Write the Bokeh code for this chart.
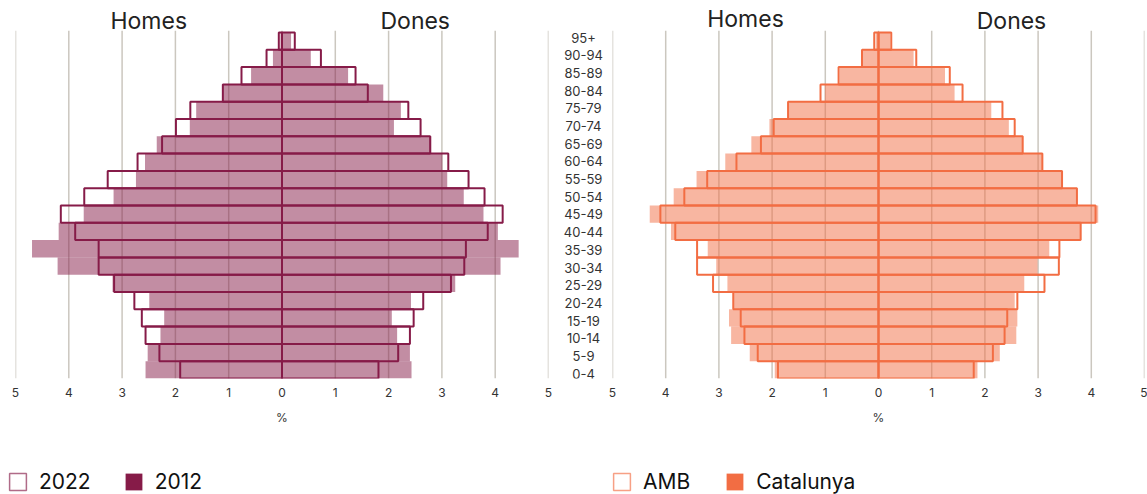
from bokeh.plotting import figure
from bokeh.layouts import row, column
from bokeh.models import Range1d, FixedTicker, Label, Legend, LegendItem
from bokeh.core.properties import value
from bokeh.embed import file_html
from bokeh.resources import INLINE

FONT = "Inter"

ages = ["0-4", "5-9", "10-14", "15-19", "20-24", "25-29", "30-34", "35-39", "40-44", "45-49",
        "50-54", "55-59", "60-64", "65-69", "70-74", "75-79", "80-84", "85-89", "90-94", "95+"]

# Left pyramid: 2022 (outline) vs 2012 (filled), % of population
homes_2022 = [1.91, 2.30, 2.56, 2.63, 2.77, 3.15, 3.44, 3.44, 3.88, 4.15,
              3.71, 3.27, 2.71, 2.25, 1.99, 1.72, 1.11, 0.76, 0.29, 0.06]
homes_2012 = [2.56, 2.52, 2.28, 2.21, 2.49, 3.18, 4.21, 4.69, 4.19, 3.72,
              3.16, 2.74, 2.57, 2.35, 1.73, 1.61, 1.12, 0.58, 0.17, 0.03]
dones_2022 = [1.81, 2.18, 2.40, 2.47, 2.65, 3.17, 3.42, 3.45, 3.86, 4.14,
              3.80, 3.50, 3.12, 2.78, 2.60, 2.37, 1.61, 1.38, 0.73, 0.24]
dones_2012 = [2.43, 2.40, 2.16, 2.06, 2.42, 3.25, 4.10, 4.44, 4.05, 3.78,
              3.41, 3.10, 3.01, 2.80, 2.10, 2.23, 1.90, 1.24, 0.54, 0.17]

# Right pyramid: AMB (outline) vs Catalunya (filled)
homes_amb = [1.89, 2.27, 2.52, 2.59, 2.73, 3.11, 3.41, 3.41, 3.82, 4.10,
             3.65, 3.22, 2.67, 2.21, 1.97, 1.70, 1.09, 0.75, 0.31, 0.08]
homes_cat = [1.95, 2.42, 2.77, 2.81, 2.73, 2.84, 3.05, 3.21, 3.90, 4.30,
             3.85, 3.42, 2.88, 2.39, 2.05, 1.70, 1.01, 0.73, 0.30, 0.05]
dones_amb = [1.79, 2.15, 2.37, 2.42, 2.61, 3.12, 3.39, 3.40, 3.80, 4.08,
             3.73, 3.45, 3.08, 2.71, 2.56, 2.33, 1.58, 1.34, 0.71, 0.24]
dones_cat = [1.86, 2.28, 2.59, 2.61, 2.56, 2.74, 2.99, 3.21, 3.81, 4.13,
             3.73, 3.45, 3.09, 2.72, 2.45, 2.12, 1.43, 1.25, 0.66, 0.22]

x_ticks = [-5, -4, -3, -2, -1, 0, 1, 2, 3, 4, 5]
tick_labels = {t: str(abs(t)) for t in x_ticks}
sides = ["Homes", "Dones"]
legend_left = ["2022", "2012"]
legend_right = ["AMB", "Catalunya"]

MAROON = "#861b48"
ORANGE = "#f26d43"
GRID = "#cbc7bf"

MAIN_H = 468
BOTTOM = 90
NBANDS = len(ages)
GRID_TOP = NBANDS + 0.1
YTOP = 21.85


def pyramid(width, bl, br, m_out, m_fill, f_out, f_fill, col, title_off):
    p = figure(width=width, height=MAIN_H, x_range=Range1d(-5, 5), y_range=Range1d(0, YTOP),
               output_backend="svg", toolbar_location=None,
               min_border_left=bl, min_border_right=br, min_border_top=0,
               min_border_bottom=BOTTOM, y_axis_location=None)
    p.outline_line_color = None
    p.xgrid.visible = False
    p.ygrid.visible = False

    ax = p.xaxis[0]
    ax.ticker = FixedTicker(ticks=x_ticks)
    ax.major_label_overrides = tick_labels
    ax.axis_line_color = None
    ax.major_tick_line_color = None
    ax.minor_tick_line_color = None
    ax.major_label_standoff = 3
    ax.major_label_text_font = FONT
    ax.major_label_text_font_size = "12px"
    ax.major_label_text_color = "#333333"
    ax.axis_label = "%"
    ax.axis_label_text_font = FONT
    ax.axis_label_text_font_style = "normal"
    ax.axis_label_text_font_size = "12px"
    ax.axis_label_text_color = "#333333"
    ax.axis_label_standoff = 10

    # vertical grid lines at the ticks
    p.segment(x0=x_ticks, x1=x_ticks, y0=[0] * len(x_ticks), y1=[GRID_TOP] * len(x_ticks),
              line_color=GRID, line_width=1.5)

    bottoms = list(range(NBANDS))
    tops = [b + 1 for b in bottoms]
    zeros = [0] * NBANDS

    # filled series
    p.quad(left=[-v for v in m_fill], right=zeros, bottom=bottoms, top=tops,
           fill_color=col, fill_alpha=0.5, line_color=None)
    p.quad(left=zeros, right=f_fill, bottom=bottoms, top=tops,
           fill_color=col, fill_alpha=0.5, line_color=None)
    # outlined series
    p.quad(left=[-v for v in m_out], right=zeros, bottom=bottoms, top=tops,
           fill_color=None, line_color=col, line_width=2)
    p.quad(left=zeros, right=f_out, bottom=bottoms, top=tops,
           fill_color=None, line_color=col, line_width=2)

    for xpos, txt, off in zip([-2.5, 2.5], sides, title_off):
        p.add_layout(Label(x=xpos, y=GRID_TOP, y_offset=off, text=txt, text_align="center",
                           text_baseline="alphabetic", text_font=FONT,
                           text_font_size="23px", text_color="#222222"))
    return p


def legend_fig(width, col, labels, out_vals, fill_vals, leg_x, spacing):
    # ranges far away from the data: only the legend swatches are visible
    f = figure(width=width, height=494 - MAIN_H, x_range=Range1d(100, 101),
               y_range=Range1d(100, 101),
               output_backend="svg", toolbar_location=None,
               min_border_left=0, min_border_right=0, min_border_top=0, min_border_bottom=0,
               x_axis_location=None, y_axis_location=None)
    f.outline_line_color = None
    f.xgrid.visible = False
    f.ygrid.visible = False
    bottoms = list(range(NBANDS))
    tops = [b + 1 for b in bottoms]
    zeros = [0] * NBANDS
    r_out = f.quad(left=zeros, right=out_vals, top=tops, bottom=bottoms, fill_color=None,
                   line_color=col, line_alpha=0.65, line_width=1.5)
    r_fill = f.quad(left=zeros, right=fill_vals, top=tops, bottom=bottoms, fill_color=col,
                    fill_alpha=1.0, line_color=None)
    leg = Legend(items=[LegendItem(label=labels[0], renderers=[r_out]),
                        LegendItem(label=labels[1], renderers=[r_fill])],
                 location=(leg_x, 0), orientation="horizontal",
                 glyph_width=21, glyph_height=21, label_standoff=11, spacing=spacing,
                 padding=0, margin=0, border_line_color=None, background_fill_alpha=0,
                 label_text_font=FONT, label_text_font_size="21px",
                 label_text_color="#111111")
    f.add_layout(leg)
    return f


left = pyramid(555, 15, 7, homes_2022, homes_2012, dones_2022, dones_2012, MAROON, [10, 10])

# age labels column (slightly wider spacing than the bars, as in the original)
mid = figure(width=50, height=MAIN_H, x_range=Range1d(0, 1), y_range=Range1d(0.224, 21.60),
             output_backend="svg", toolbar_location=None,
             min_border_left=0, min_border_right=0, min_border_top=0,
             min_border_bottom=BOTTOM, x_axis_location=None, y_axis_location=None)
mid.outline_line_color = None
mid.xgrid.visible = False
mid.ygrid.visible = False
mid.text(x=[0.56] * NBANDS, y=[i + 0.5 for i in range(NBANDS)], text=ages,
         text_align="center", text_baseline="middle", text_font=value(FONT),
         text_font_size="13px", text_color="#333333")

right = pyramid(542, 7, 3, homes_amb, homes_cat, dones_amb, dones_cat, ORANGE, [12, 10])

leg_l = legend_fig(605, MAROON, legend_left, dones_2022, dones_2012, 7, 32)
leg_r = legend_fig(542, ORANGE, legend_right, dones_amb, dones_cat, 6, 34)

layout = column(row(left, mid, right), row(leg_l, leg_r))
open("out.html", "w").write(file_html(layout, INLINE))
